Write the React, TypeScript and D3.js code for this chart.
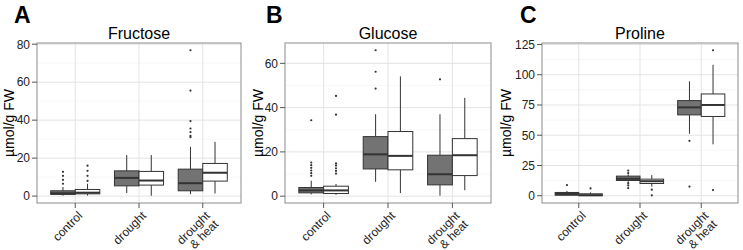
import React from "react";
import * as d3 from "d3";

const categories = ["control", "drought", "drought\n& heat"];
const panelTitles = ["Fructose", "Glucose", "Proline"];
const panelLetters = ["A", "B", "C"];
const yLabel = "µmol/g FW";

// box stats: [lower whisker, q1, median, q3, upper whisker] per category
const fructoseDark = [[0.2, 0.9, 1.5, 2.8, 4.8], [1.6, 5.4, 9.6, 13.3, 21.6], [1.0, 2.8, 6.8, 14.2, 26.0]];
const fructoseDarkOut = [[6.5, 8.6, 10.7, 12.8], [], [31.0, 31.7, 33.7, 35.6, 39.5, 55.6, 76.8]];
const fructoseWhite = [[0.3, 1.2, 1.8, 3.5, 6.5], [0.2, 5.8, 8.2, 13.0, 21.6], [1.4, 7.9, 12.3, 17.2, 28.6]];
const fructoseWhiteOut = [[8.0, 10.7, 13.3, 16.0], [], []];

const glucoseDark = [[0.8, 1.5, 2.6, 3.9, 7.0], [6.5, 12.3, 18.9, 26.9, 37.0], [0.2, 5.1, 9.9, 18.5, 37.0]];
const glucoseDarkOut = [[9.2, 10.4, 11.6, 12.8, 14.0, 15.2, 34.3], [48.6, 56.2, 65.9], [52.8]];
const glucoseWhite = [[0.6, 1.2, 2.6, 4.5, 5.5], [1.4, 11.9, 18.2, 29.2, 54.1], [2.7, 9.3, 18.5, 26.0, 44.4]];
const glucoseWhiteOut = [[10.2, 11.4, 12.6, 13.8, 14.8, 36.8, 45.3], [], []];

const prolineDark = [[0.2, 0.4, 1.5, 2.7, 4.0], [11.5, 12.6, 14.0, 16.2, 17.5], [51.2, 66.8, 73.0, 78.6, 94.5]];
const prolineDarkOut = [[8.8], [6.3, 8.5, 10.4, 18.6, 20.8], [7.6, 45.4]];
const prolineWhite = [[0.0, 0.0, 0.5, 1.6, 2.8], [7.5, 10.1, 12.0, 13.7, 17.0], [42.5, 65.5, 75.0, 84.1, 108.2]];
const prolineWhiteOut = [[6.0], [0.3, 5.0], [4.7, 120.2]];

const yTicksA = [0, 20, 40, 60, 80];
const yTicksB = [0, 20, 40, 60];
const yTicksC = [0, 25, 50, 75, 100, 125];

const panels = [
  { dark: fructoseDark, darkOut: fructoseDarkOut, white: fructoseWhite, whiteOut: fructoseWhiteOut, ticks: yTicksA },
  { dark: glucoseDark, darkOut: glucoseDarkOut, white: glucoseWhite, whiteOut: glucoseWhiteOut, ticks: yTicksB },
  { dark: prolineDark, darkOut: prolineDarkOut, white: prolineWhite, whiteOut: prolineWhiteOut, ticks: yTicksC },
];

const layout = [
  { left: 37, right: 241, letterX: 14, yLabX: 13.5 },
  { left: 285, right: 491, letterX: 266, yLabX: 263 },
  { left: 542, right: 738, letterX: 520, yLabX: 511 },
];
const TOP = 43;
const BOTTOM = 203;
const FONT = "'Liberation Sans', Arial, Helvetica, sans-serif";
const OUTLINE = "#333333";
const DARK_FILL = "#737373";

function Panel({ idx }: { idx: number }) {
  const p = panels[idx];
  const L = layout[idx];
  const all = [
    ...p.dark.flat(), ...p.white.flat(), ...p.darkOut.flat(), ...p.whiteOut.flat(),
  ];
  const mn = d3.min(all) as number;
  const mx = d3.max(all) as number;
  const pad = (mx - mn) * 0.05;
  const y = d3.scaleLinear().domain([mn - pad, mx + pad]).range([BOTTOM, TOP]);
  // discrete expand 0.6 on each side of 3 categories
  const xs = d3.scaleLinear().domain([-0.6, 2.6]).range([L.left, L.right]);
  const unit = xs(1) - xs(0);
  const cx = (i: number) => xs(i);
  const boxW = unit * 0.385;
  const ticks = p.ticks;
  const step = ticks[1] - ticks[0];
  const minor = ticks.map((t) => t + step / 2).filter((t) => y(t) > TOP && y(t) < BOTTOM);
  const minorLow = ticks[0] - step / 2;
  if (y(minorLow) < BOTTOM) minor.push(minorLow);
  const groups = [
    { stats: p.dark, out: p.darkOut, fill: DARK_FILL, off: -1 },
    { stats: p.white, out: p.whiteOut, fill: "#ffffff", off: 0 },
  ];
  const midX = (L.left + L.right) / 2;
  return (
    <g>
      <text x={L.letterX} y={23} fontFamily={FONT} fontWeight="bold" fontSize={23} fill="#000">
        {panelLetters[idx]}
      </text>
      <text x={midX} y={39} textAnchor="middle" fontFamily={FONT} fontSize={16} fill="#000">
        {panelTitles[idx]}
      </text>
      <rect x={L.left} y={TOP} width={L.right - L.left} height={BOTTOM - TOP} fill="#fff" />
      {minor.map((t) => (
        <line key={"mi" + t} x1={L.left} x2={L.right} y1={y(t)} y2={y(t)} stroke="#f2f2f2" strokeWidth={0.6} />
      ))}
      {ticks.map((t) => (
        <line key={"ma" + t} x1={L.left} x2={L.right} y1={y(t)} y2={y(t)} stroke="#e3e3e3" strokeWidth={1} />
      ))}
      {categories.map((c, i) => (
        <line key={"vg" + i} x1={cx(i)} x2={cx(i)} y1={TOP} y2={BOTTOM} stroke="#e3e3e3" strokeWidth={1} />
      ))}
      {groups.map((g, gi) =>
        g.stats.map((s, i) => {
          const x0 = cx(i) + g.off * boxW;
          const xm = x0 + boxW / 2;
          return (
            <g key={`b${gi}-${i}`}>
              <line x1={xm} x2={xm} y1={y(s[4])} y2={y(s[3])} stroke={OUTLINE} strokeWidth={1} />
              <line x1={xm} x2={xm} y1={y(s[1])} y2={y(s[0])} stroke={OUTLINE} strokeWidth={1} />
              <rect x={x0} y={y(s[3])} width={boxW} height={Math.max(0.5, y(s[1]) - y(s[3]))} fill={g.fill} stroke={OUTLINE} strokeWidth={1} />
              <line x1={x0} x2={x0 + boxW} y1={y(s[2])} y2={y(s[2])} stroke={OUTLINE} strokeWidth={2} />
              {g.out[i].map((v, k) => (
                <circle key={k} cx={xm} cy={y(v)} r={1.1} fill={OUTLINE} />
              ))}
            </g>
          );
        })
      )}
      <rect x={L.left} y={TOP} width={L.right - L.left} height={BOTTOM - TOP} fill="none" stroke="#8c8c8c" strokeWidth={1} />
      {ticks.map((t) => (
        <g key={"yt" + t}>
          <line x1={L.left - 5} x2={L.left} y1={y(t)} y2={y(t)} stroke="#555" strokeWidth={1} />
          <text x={L.left - 7} y={y(t)} dy="0.36em" textAnchor="end" fontFamily={FONT} fontSize={12} fill="#222">
            {t}
          </text>
        </g>
      ))}
      {categories.map((c, i) => {
        const lines = c.split("\n");
        return (
          <g key={"xt" + i}>
            <line x1={cx(i)} x2={cx(i)} y1={BOTTOM} y2={BOTTOM + 5} stroke="#555" strokeWidth={1} />
            <text transform={`translate(${cx(i) + 1.5},${BOTTOM + 7}) rotate(-45)`} textAnchor="end" fontFamily={FONT} fontSize={12} fill="#222">
              {lines.map((ln, k) => (
                <tspan key={k} x={0} y={0} dy={`${0.75 + k * 1.0}em`}>{ln}</tspan>
              ))}
            </text>
          </g>
        );
      })}
      <text transform={`translate(${L.yLabX},${(TOP + BOTTOM) / 2}) rotate(-90)`} textAnchor="middle" fontFamily={FONT} fontSize={14} fill="#000">
        {yLabel}
      </text>
    </g>
  );
}

export default function App() {
  return (
    <svg width={743} height={250} style={{ position: "absolute", left: 0, top: 0, background: "#fff" }}>
      <rect x={0} y={0} width={743} height={250} fill="#fff" />
      {[0, 1, 2].map((i) => (
        <Panel key={i} idx={i} />
      ))}
    </svg>
  );
}
